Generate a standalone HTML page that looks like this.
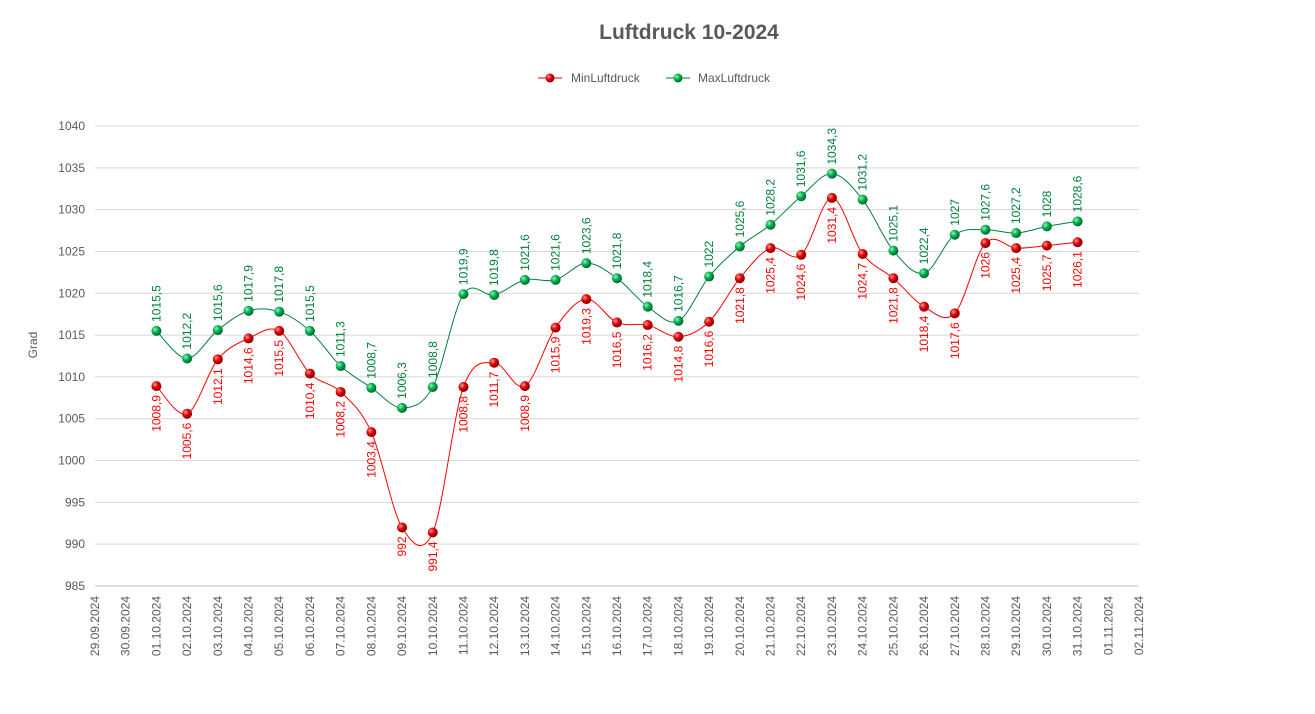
<!DOCTYPE html>
<html><head><meta charset="utf-8"><style>
html,body{margin:0;padding:0;background:#fff;}
svg{display:block;font-family:"Liberation Sans",sans-serif;}
</style></head><body>
<svg id="c" width="1315" height="714" xmlns="http://www.w3.org/2000/svg">
<defs>
<radialGradient id="gr" cx="35%" cy="35%" r="65%"><stop offset="0" stop-color="#ff9a9a"/><stop offset="0.5" stop-color="#e00000"/><stop offset="1" stop-color="#8a0000"/></radialGradient>
<radialGradient id="gg" cx="35%" cy="35%" r="65%"><stop offset="0" stop-color="#9af0b8"/><stop offset="0.5" stop-color="#00b050"/><stop offset="1" stop-color="#006a2a"/></radialGradient>
</defs>
<text x="689" y="39" text-anchor="middle" font-size="21" font-weight="bold" fill="#595959">Luftdruck 10-2024</text>
<line x1="538" y1="78" x2="562" y2="78" stroke="#e00000" stroke-width="1"/><circle cx="550" cy="78" r="4.5" fill="url(#gr)"/>
<text x="571" y="82" font-size="12" fill="#595959">MinLuftdruck</text>
<line x1="666" y1="78" x2="690" y2="78" stroke="#00803a" stroke-width="1"/><circle cx="678" cy="78" r="4.5" fill="url(#gg)"/>
<text x="698" y="82" font-size="12" fill="#595959">MaxLuftdruck</text>
<text transform="translate(37,345) rotate(-90)" text-anchor="middle" font-size="12" fill="#595959">Grad</text>
<g id="g"></g>
</svg>
<script>
var min=[1008.9,1005.6,1012.1,1014.6,1015.5,1010.4,1008.2,1003.4,992,991.4,1008.8,1011.7,1008.9,1015.9,1019.3,1016.5,1016.2,1014.8,1016.6,1021.8,1025.4,1024.6,1031.4,1024.7,1021.8,1018.4,1017.6,1026,1025.4,1025.7,1026.1];
var max=[1015.5,1012.2,1015.6,1017.9,1017.8,1015.5,1011.3,1008.7,1006.3,1008.8,1019.9,1019.8,1021.6,1021.6,1023.6,1021.8,1018.4,1016.7,1022,1025.6,1028.2,1031.6,1034.3,1031.2,1025.1,1022.4,1027,1027.6,1027.2,1028,1028.6];
var X0=95,X1=1139,dx=(X1-X0)/34;
function Y(v){return 126+(1040-v)*460/55;}
function X(i){return X0+i*dx;}
var s='';
for(var v=985;v<=1040;v+=5){var y=Y(v);s+='<line x1="'+X0+'" x2="'+X1+'" y1="'+y+'" y2="'+y+'" stroke="'+(v==985?'#bfbfbf':'#d9d9d9')+'" stroke-width="1"/>';
s+='<text x="85" y="'+(y+4)+'" text-anchor="end" font-size="12" fill="#595959">'+v+'</text>';}
function pad(n){return (n<10?'0':'')+n;}
for(var i=0;i<=34;i++){var d,m;if(i<2){d=29+i;m=9}else if(i<33){d=i-1;m=10}else{d=i-32;m=11}
var x=X(i);s+='<text transform="translate('+(x+4)+',596) rotate(-90)" text-anchor="end" font-size="12" fill="#595959">'+pad(d)+'.'+pad(m)+'.2024</text>';}
function path(a){var p=a.map(function(v,i){return [X(i+2),Y(v)]});var d='M'+p[0][0]+','+p[0][1];
for(var i=0;i<p.length-1;i++){var p0=p[i-1]||p[i],p1=p[i],p2=p[i+1],p3=p[i+2]||p2;var t=6;
d+=' C'+(p1[0]+(p2[0]-p0[0])/t)+','+(p1[1]+(p2[1]-p0[1])/t)+' '+(p2[0]-(p3[0]-p1[0])/t)+','+(p2[1]-(p3[1]-p1[1])/t)+' '+p2[0]+','+p2[1];}return d;}
s+='<path d="'+path(min)+'" fill="none" stroke="#ff0000" stroke-width="1"/>';
s+='<path d="'+path(max)+'" fill="none" stroke="#00803a" stroke-width="1"/>';
function lab(v){return String(v).replace('.',',');}
min.forEach(function(v,i){var x=X(i+2),y=Y(v);s+='<circle cx="'+x+'" cy="'+y+'" r="5" fill="url(#gr)"/>';
s+='<text transform="translate('+(x+4)+','+(y+9)+') rotate(-90)" text-anchor="end" font-size="12" fill="#ff0000">'+lab(v)+'</text>';});
max.forEach(function(v,i){var x=X(i+2),y=Y(v);s+='<circle cx="'+x+'" cy="'+y+'" r="5" fill="url(#gg)"/>';
s+='<text transform="translate('+(x+4)+','+(y-9)+') rotate(-90)" text-anchor="start" font-size="12" fill="#00803a">'+lab(v)+'</text>';});
document.getElementById('g').innerHTML=s;
</script>
</body></html>
